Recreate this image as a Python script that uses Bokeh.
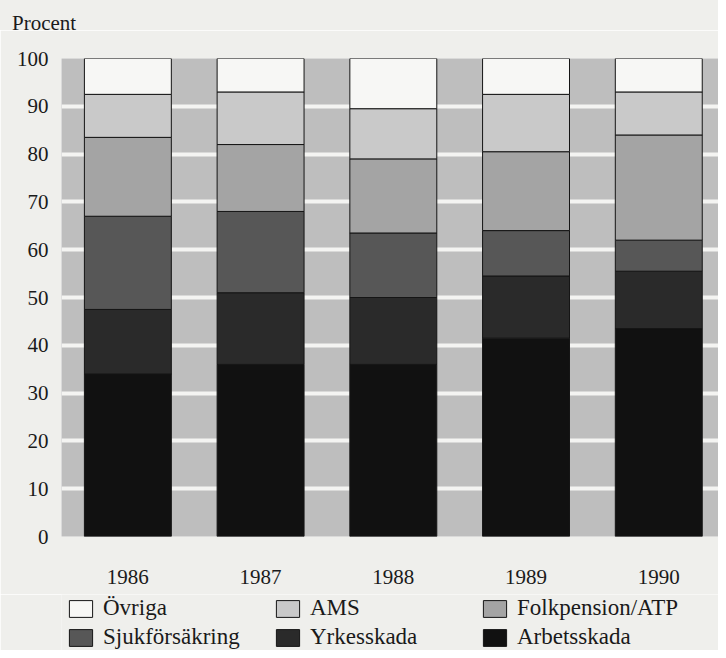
from bokeh.plotting import figure
from bokeh.layouts import column
from bokeh.models import (ColumnDataSource, FixedTicker, Legend, LegendItem, Range1d, Div)
from bokeh.embed import file_html
from bokeh.resources import INLINE

# ---- data (percent shares) ----
years = [1986, 1987, 1988, 1989, 1990]
arbetsskada = [34.0, 36.0, 36.0, 41.5, 43.5]
yrkesskada = [13.5, 15.0, 14.0, 13.0, 12.0]
sjukforsakring = [19.5, 17.0, 13.5, 9.5, 6.5]
folkpension_atp = [16.5, 14.0, 15.5, 16.5, 22.0]
ams = [9.0, 11.0, 10.5, 12.0, 9.0]
ovriga = [7.5, 7.0, 10.5, 7.5, 7.0]

series_keys = ["arbetsskada", "yrkesskada", "sjukforsakring", "folkpension_atp", "ams", "ovriga"]
series_labels = ["Arbetsskada", "Yrkesskada", "Sjukförsäkring", "Folkpension/ATP", "AMS", "Övriga"]
y_ticks = [0, 10, 20, 30, 40, 50, 60, 70, 80, 90, 100]
grid_ticks = [10, 20, 30, 40, 50, 60, 70, 80, 90]
unit_label = "Procent"

colors = ["#111111", "#2a2a2a", "#575757", "#a4a4a4", "#c9c9c9", "#f7f7f5"]

FONT = "Liberation Serif"
PAPER = "#efefec"
INK = "#1a1a1a"

source = ColumnDataSource(dict(
    year=years,
    arbetsskada=arbetsskada,
    yrkesskada=yrkesskada,
    sjukforsakring=sjukforsakring,
    folkpension_atp=folkpension_atp,
    ams=ams,
    ovriga=ovriga,
))

# ---------------- unit label strip ----------------
head = Div(
    text=(f'<div style="width:718px;height:30px;box-sizing:border-box;'
          f'padding:13px 0 0 12px;margin:0;background:{PAPER};color:{INK};'
          f'font-family:\'{FONT}\';font-size:21px;line-height:21px;">{unit_label}</div>'),
    width=718, height=30, margin=(0, 0, 0, 0),
    styles={"background-color": PAPER},
)

# ---------------- main chart ----------------
p = figure(
    x_range=Range1d(years[0] - 0.5, years[-1] + 0.45),
    y_range=Range1d(0, 100),
    width=718, height=564,
    output_backend="svg", toolbar_location=None,
    min_border_left=61, min_border_right=0,
    min_border_top=28, min_border_bottom=58,
)

renderers = p.vbar_stack(series_keys, x="year", width=0.655, source=source,
                         fill_color=colors, line_color="#151515", line_width=1)

p.background_fill_color = "#bebebe"
p.border_fill_color = PAPER
p.outline_line_color = None

# grid
p.xgrid.grid_line_color = None
p.ygrid.ticker = FixedTicker(ticks=grid_ticks)
p.ygrid.grid_line_color = "#f4f4f2"
p.ygrid.grid_line_width = 4

# axes
for ax in (p.xaxis[0], p.yaxis[0]):
    ax.axis_line_color = None
    ax.major_tick_line_color = None
    ax.minor_tick_line_color = None
    ax.major_tick_out = 0
    ax.major_tick_in = 0
    ax.major_label_text_font = FONT
    ax.major_label_text_font_size = "21px"
    ax.major_label_text_color = INK

p.yaxis[0].ticker = FixedTicker(ticks=y_ticks)
p.yaxis[0].major_label_standoff = 13
p.xaxis[0].ticker = FixedTicker(ticks=years)
p.xaxis[0].major_label_standoff = 33

# ---------------- legend strip ----------------
lg = figure(
    x_range=Range1d(0, 1), y_range=Range1d(0, 1),
    width=718, height=56,
    output_backend="svg", toolbar_location=None,
    min_border=0, min_border_left=0, min_border_right=0,
    min_border_top=0, min_border_bottom=0,
)
lg.axis.visible = False
lg.grid.visible = False
lg.outline_line_color = None
lg.background_fill_color = PAPER
lg.border_fill_color = PAPER

# legend swatch renderers share the chart data (bars lie outside this strip's range)
swatch_renderers = [lg.vbar(x="year", top=key, width=0.1, source=source,
                            fill_color=c, line_color="#151515", line_width=1)
                    for key, c in zip(series_keys, colors)]

# row-major: Övriga, AMS, Folkpension/ATP / Sjukförsäkring, Yrkesskada, Arbetsskada
order = [5, 4, 3, 2, 1, 0]
items = [LegendItem(label=series_labels[i], renderers=[swatch_renderers[i]]) for i in order]
legend = Legend(
    items=items, orientation="horizontal", ncols=3,
    location=(5, 0),
    glyph_width=29, glyph_height=21, label_standoff=8,
    label_width=167, spacing=3, padding=0, margin=0,
    border_line_color=None, background_fill_alpha=0,
    label_text_font=FONT, label_text_font_size="23px", label_text_color=INK,
)
lg.add_layout(legend, "center")

layout = column(head, p, lg, spacing=0)
open("out.html", "w").write(file_html(layout, INLINE))
